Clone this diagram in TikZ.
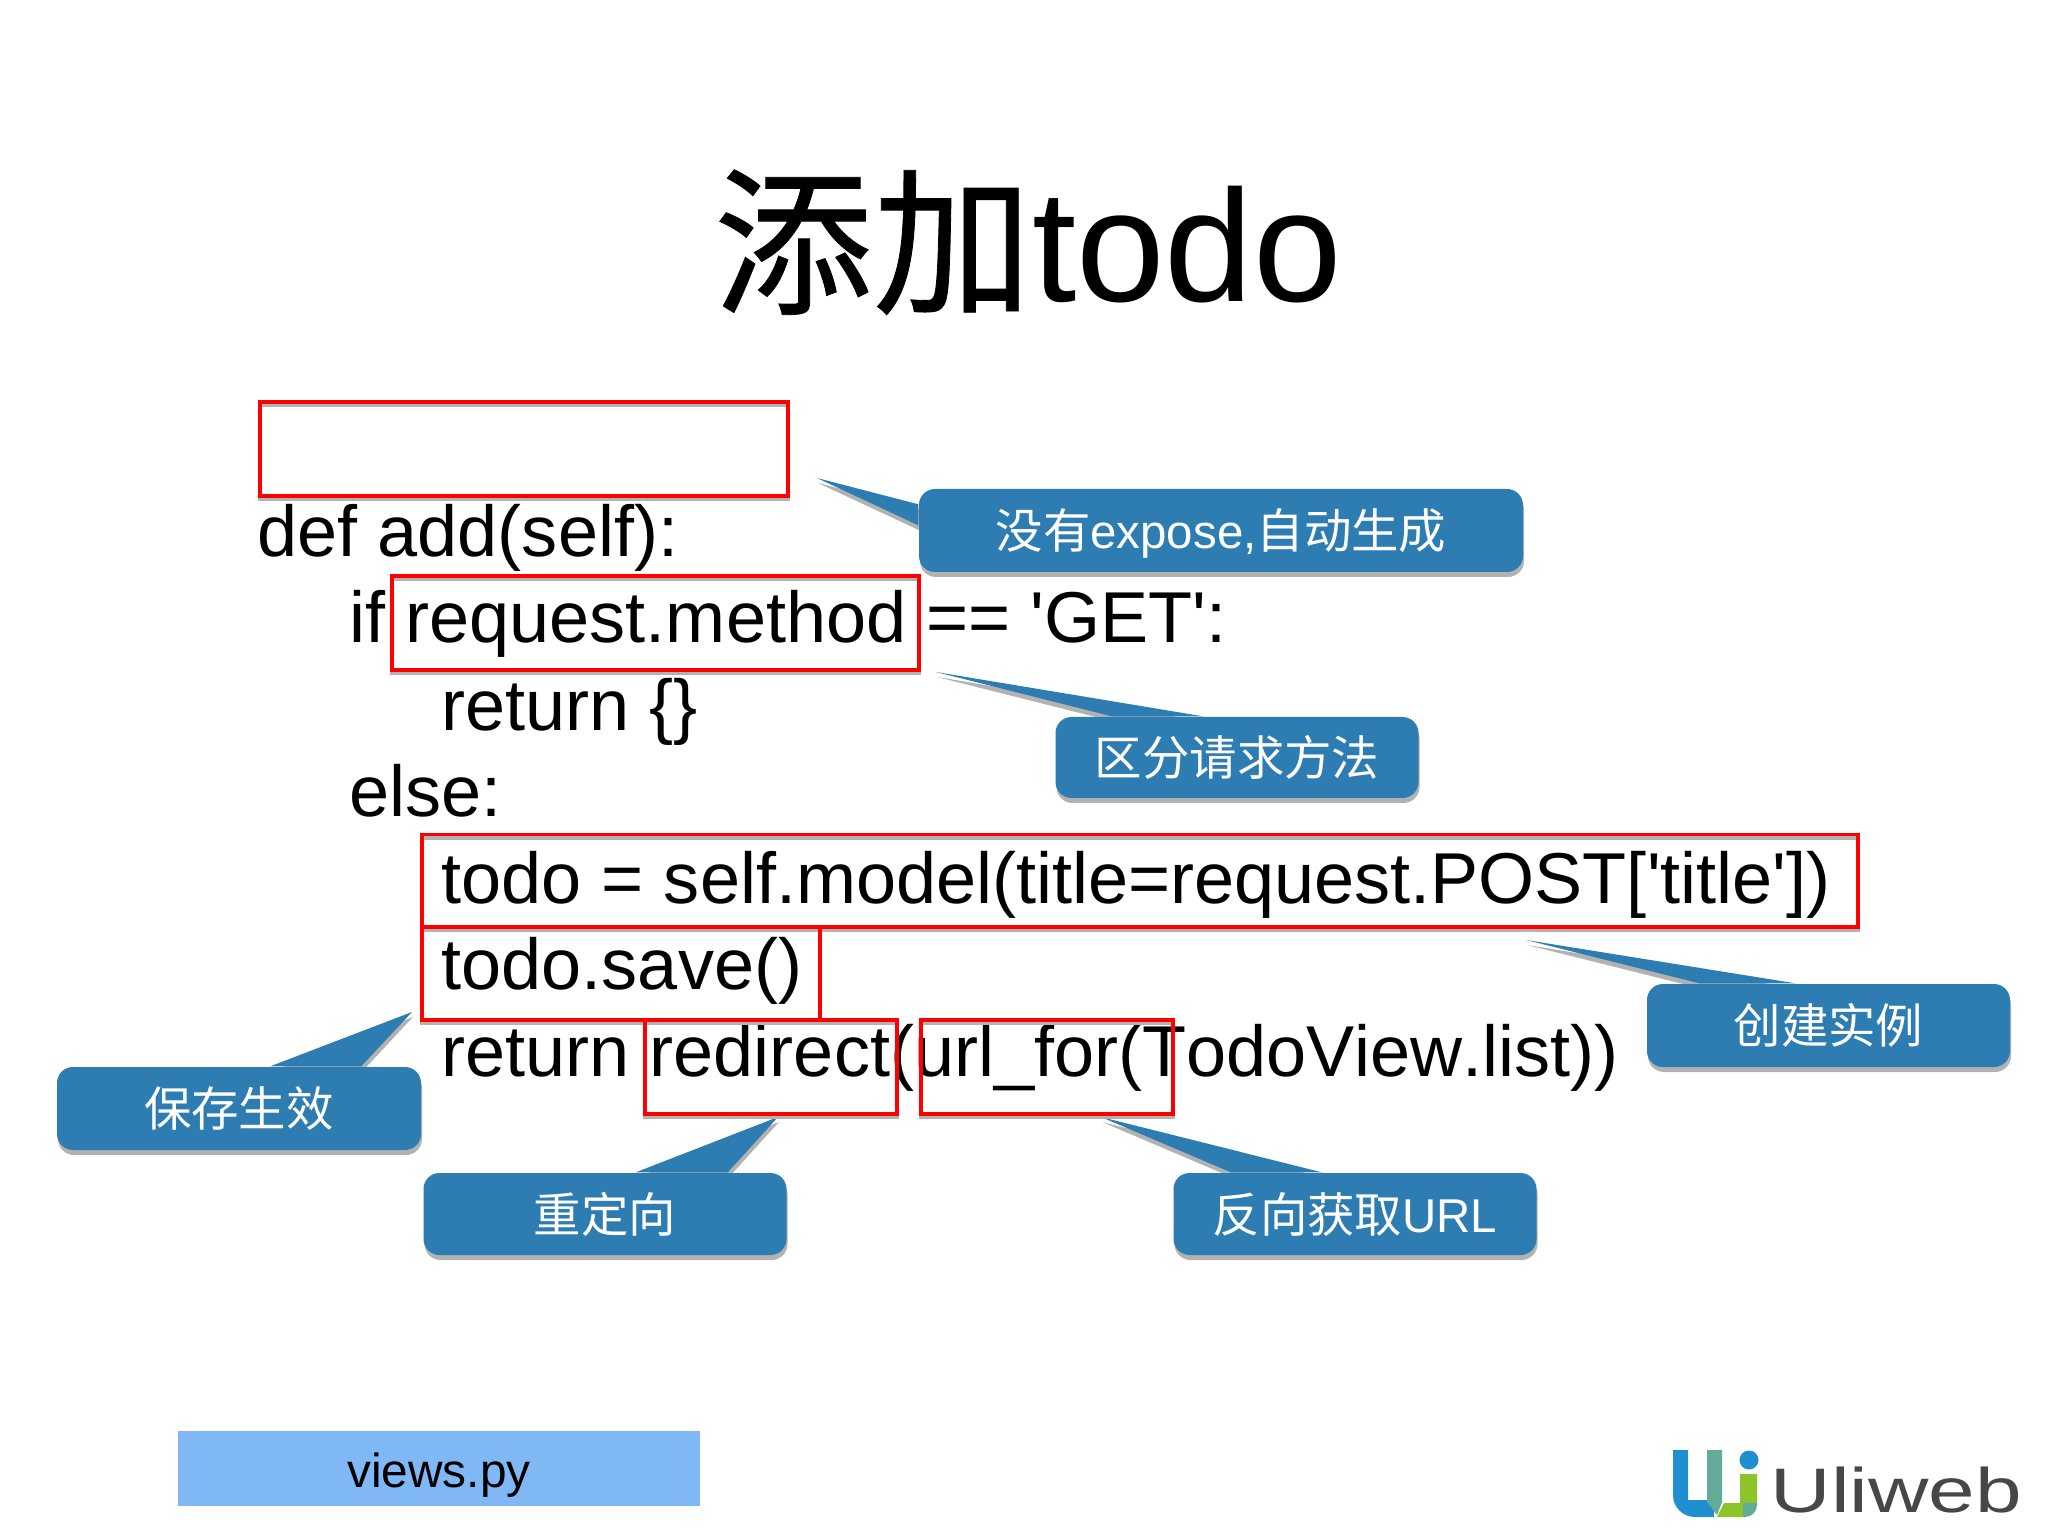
\documentclass[tikz,border=0pt]{standalone}
\usepackage{fontspec}
\setmainfont{Liberation Sans}
\newfontfamily\codefont[Kerning=Off]{Liberation Sans}
\newfontfamily\cjk{Noto Sans CJK SC}
\newfontfamily\cjktitle[FakeBold=0.5]{Noto Sans CJK SC}
\usetikzlibrary{shadows,backgrounds}
\definecolor{bubbleblue}{HTML}{2E7DB2}
\definecolor{tabblue}{HTML}{7FB8F5}
\definecolor{logoblue}{HTML}{1F8FD0}
\definecolor{logoteal}{HTML}{62AB98}
\definecolor{logogreen}{HTML}{8CC42A}
\tikzset{
    softshadow/.style={drop shadow={shadow xshift=0.01cm, shadow yshift=-0.05cm, opacity=0.3, fill=black}},
    titletext/.style={anchor=base west, inner sep=0pt, font=\codefont\fontsize{45.3}{45.3}\selectfont},
    codeline/.style={anchor=base west, inner sep=0pt, font=\codefont\fontsize{20.5}{20.5}\selectfont},
    redbox/.style={draw=red, line width=0.9pt, preaction={draw=black!30, line width=1pt, transform canvas={yshift=-0.035cm}}},
    bubble/.style={fill=bubbleblue, rounded corners=0.16cm, text=white, inner sep=0pt, text height=0.46cm, text depth=0.10cm, font=\fontsize{13.5}{13.5}\selectfont, softshadow},
    tail/.style={fill=bubbleblue, softshadow},
}
\begin{document}
\begin{tikzpicture}
    \useasboundingbox (0,0) rectangle (20.48,-15.36);
    % title
    \node[titletext] (title) at (7.13,-3.02) {{\cjktitle 添加}todo};
    % code
    \node[codeline] (def) at (2.57,-5.57) {def add(self):};
    \node[codeline] (ifget) at (3.49,-6.43) {if request.method == 'GET':};
    \node[codeline] (retempty) at (4.41,-7.30) {return \{\}};
    \node[codeline] (else) at (3.49,-8.17) {else:};
    \node[codeline] (todo) at (4.41,-9.03) {todo = self.model(title=request.POST['title'])};
    \node[codeline] (save) at (4.41,-9.89) {todo.save()};
    \node[codeline] (redir) at (4.41,-10.76) {return redirect(url\_for(TodoView.list))};
    % red boxes
    \draw[redbox] (2.60,-4.02) rectangle (7.88,-4.96);
    \draw[redbox] (3.92,-5.76) rectangle (9.19,-6.70);
    \draw[redbox] (4.22,-8.345) rectangle (18.58,-9.27);
    \draw[redbox] (4.22,-9.27) rectangle (8.20,-10.20);
    \draw[redbox] (6.45,-10.20) rectangle (8.97,-11.14);
    \draw[redbox] (9.21,-10.20) rectangle (11.73,-11.14);
    % bubbles
    \node[bubble, minimum width=6.04cm, minimum height=0.83cm] (expose) at (12.21,-5.305) {{\cjk 没有}expose,{\cjk 自动生成}};
    \node[bubble, minimum width=3.63cm, minimum height=0.81cm] (method) at (12.37,-7.575) {\cjk 区分请求方法};
    \node[bubble, minimum width=3.63cm, minimum height=0.83cm] (create) at (18.285,-10.255) {\cjk 创建实例};
    \node[bubble, minimum width=3.64cm, minimum height=0.83cm] (savetip) at (2.39,-11.085) {\cjk 保存生效};
    \node[bubble, minimum width=3.63cm, minimum height=0.82cm] (redirtip) at (6.05,-12.14) {\cjk 重定向};
    \node[bubble, minimum width=3.63cm, minimum height=0.82cm] (urltip) at (13.55,-12.14) {{\cjk 反向获取}URL};
    % tails
    \coordinate (exposetip) at (8.17,-4.78);
    \coordinate (methodtip) at (9.36,-6.72);
    \coordinate (createtip) at (15.26,-9.40);
    \coordinate (savetiptip) at (4.12,-10.12);
    \coordinate (redirtip tip) at (7.78,-11.17);
    \coordinate (urltip tip) at (11.01,-11.17);
    \begin{scope}[on background layer]
        \fill[tail] (exposetip) -- ([yshift=-0.16cm]expose.north west) -- ([yshift=-0.37cm]expose.north west) -- cycle;
        \fill[tail] (methodtip) -- ([xshift=1.48cm]method.north west) -- ([xshift=0.57cm]method.north west) -- cycle;
        \fill[tail] (createtip) -- ([xshift=1.49cm]create.north west) -- ([xshift=0.53cm]create.north west) -- cycle;
        \fill[tail] (savetiptip) -- ([xshift=3.05cm]savetip.north west) -- ([xshift=2.14cm]savetip.north west) -- cycle;
        \fill[tail] (redirtip tip) -- ([xshift=3.05cm]redirtip.north west) -- ([xshift=2.13cm]redirtip.north west) -- cycle;
        \fill[tail] (urltip tip) -- ([xshift=1.49cm]urltip.north west) -- ([xshift=0.58cm]urltip.north west) -- cycle;
    \end{scope}
    % file tab
    \node[fill=tabblue, inner sep=0pt, minimum width=5.22cm, minimum height=0.75cm, text height=0.50cm, text depth=0.12cm, font=\fontsize{13.6}{13.6}\selectfont] (views) at (4.39,-14.685) {views.py};
    % logo
    \fill[logoblue] (16.73,-14.50) -- (16.88,-14.50) -- (16.88,-15.00) -- (17.14,-15.00) -- (17.14,-15.17) -- (16.95,-15.17) arc (270:180:0.22) -- cycle;
    \fill[logoteal] (17.07,-14.50) -- (17.22,-14.50) -- (17.22,-15.02) -- (17.17,-15.15) -- (17.07,-15.02) -- cycle;
    \fill[logogreen] (17.17,-15.17) -- (17.24,-15.03) -- (17.40,-15.03) -- (17.40,-14.74) -- (17.57,-14.74) -- (17.57,-15.03) -- (17.43,-15.03) -- (17.43,-15.17) -- cycle;
    \fill[logoteal] (17.43,-15.17) -- (17.43,-15.03) -- (17.57,-15.03) -- (17.57,-15.05) arc (0:-90:0.12) -- cycle;
    \fill[logoblue] (17.49,-14.60) circle (0.095);
    \node[anchor=base west, inner sep=0pt, text=black!72, font=\fontsize{17.9}{17.9}\selectfont, xscale=1.33] (uliweb) at (17.70,-15.12) {Uliweb};
\end{tikzpicture}
\end{document}
